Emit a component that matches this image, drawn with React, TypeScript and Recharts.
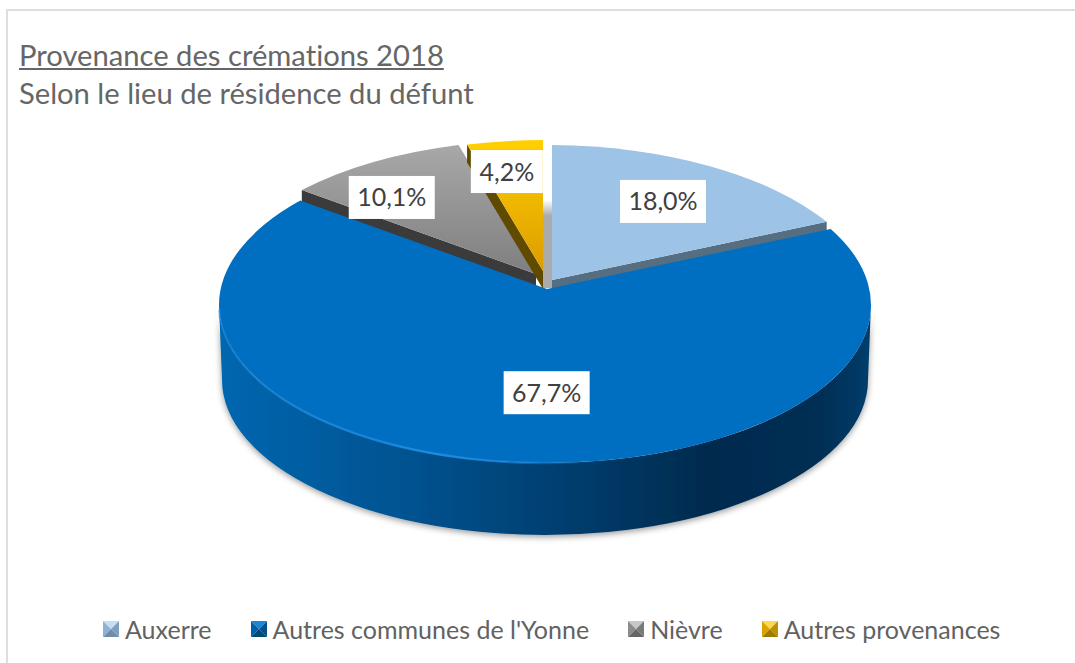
import { Legend, Pie, PieChart } from "recharts";

// Excel style 3D pie: Recharts gives the angles, the custom shape projects them on a tilted disc.

const categories = ["Auxerre", "Autres communes de l'Yonne", "Nièvre", "Autres provenances"];
const shares = [18.0, 67.7, 10.1, 4.2];

// painted back to front, the big slice has to cover the cut faces of the others
const paintOrder = [2, 3, 0, 1];
const rows = paintOrder.map((i) => ({ name: categories[i], value: shares[i] }));

const CX = 545;
const CY = 305;
const RX = 326;
const RY = 158;
const RAY_TILT = 0.45;
const START_ANGLE = 90 + ((shares[2] + shares[3]) / 100) * 360;

const SLICES: Record<string, any> = {
  Auxerre: { dx: 2, dy: -2, apexDx: 7, apexDy: -25, depth: 10, top: "#9DC3E6", wall: "#566E82" },
  "Autres communes de l'Yonne": { dx: 0, dy: 0, apexDx: 2, apexDy: -16, depth: 72, top: "#006FC1", wall: "url(#blueWall)" },
  Nièvre: { dx: -5, dy: -7, apexDx: -9, apexDy: -31, depth: 16, top: "url(#greyTop)", wall: "#3B3B3B" },
  "Autres provenances": { dx: 0, dy: -7, apexDx: -2, apexDy: -34, depth: 18, top: "url(#yellowTop)", wall: "#5F4A00" },
};

const LABEL_NUDGE: Record<string, [number, number]> = {
  Auxerre: [-13, -3.5],
  "Autres communes de l'Yonne": [30, -30],
  Nièvre: [-19, -8.5],
  "Autres provenances": [-6, -16],
};

const LEGEND_COLORS: Record<string, string[]> = {
  Auxerre: ["#C9DDF0", "#8FB2D4", "#7F9FBE", "#6F8CA8"],
  "Autres communes de l'Yonne": ["#1C86D6", "#005FA6", "#00528F", "#004679"],
  Nièvre: ["#C8C8C8", "#8C8C8C", "#7A7A7A", "#666666"],
  "Autres provenances": ["#FFD84D", "#DBA500", "#BF9000", "#A07900"],
};

const TEXT_FONT = "Lato, 'Noto Sans', sans-serif";

function rimPoint(compass: number, g: any, cx: number, cy: number, rx: number, ry: number) {
  const a = (compass * Math.PI) / 180;
  const dirX = Math.sin(a);
  const dirY = -RAY_TILT * Math.cos(a);
  const ax = cx + g.apexDx;
  const ay = cy + g.apexDy;
  const ox = ax - (cx + g.dx);
  const oy = ay - (cy + g.dy);
  const qa = (dirX * dirX) / (rx * rx) + (dirY * dirY) / (ry * ry);
  const qb = 2 * ((ox * dirX) / (rx * rx) + (oy * dirY) / (ry * ry));
  const qc = (ox * ox) / (rx * rx) + (oy * oy) / (ry * ry) - 1;
  const t = (-qb + Math.sqrt(qb * qb - 4 * qa * qc)) / (2 * qa);
  return { x: ax + t * dirX, y: ay + t * dirY };
}

function SliceShape(props: any) {
  const { cx, cy, outerRadius, startAngle, endAngle } = props;
  const name = props.payload?.name ?? props.name;
  const g = SLICES[name];
  const rx = outerRadius;
  const ry = (outerRadius * RY) / RX;
  const c0 = 90 - startAngle;
  const c1 = 90 - endAngle;
  const p0 = rimPoint(c0, g, cx, cy, rx, ry);
  const p1 = rimPoint(c1, g, cx, cy, rx, ry);
  const ax = cx + g.apexDx;
  const ay = cy + g.apexDy;
  const large = c1 - c0 > 180 ? 1 : 0;
  const top = `M${ax},${ay} L${p0.x},${p0.y} A${rx},${ry} 0 ${large} 1 ${p1.x},${p1.y} Z`;
  const isMain = g.depth > 20;

  if (isMain) {
    const left = cx - rx;
    const right = cx + rx;
    const bottomCy = cy + g.depth + 3;
    const wall = `M${left},${cy} A${rx},${ry} 0 0 0 ${right},${cy} L${right - 3},${bottomCy} A${rx - 3},${ry - 3} 0 0 1 ${left + 3},${bottomCy} Z`;
    const glowStart = rimPoint(262, g, cx, cy, rx, ry);
    const glowEnd = rimPoint(172, g, cx, cy, rx, ry);
    return (
      <g>
        <path d={wall} fill={g.wall} filter="url(#discShadow)" />
        <path d={top} fill={g.top} />
        <path
          d={`M${glowStart.x},${glowStart.y} A${rx},${ry} 0 0 0 ${glowEnd.x},${glowEnd.y}`}
          fill="none"
          stroke="url(#blueGlow)"
          strokeWidth={2.5}
        />
      </g>
    );
  }

  // the cut face looks towards the big slice
  const cut = name === "Auxerre" ? p1 : p0;
  const face = `M${ax},${ay} L${cut.x},${cut.y} L${cut.x},${cut.y + g.depth} L${ax},${ay + g.depth} Z`;
  return (
    <g>
      {name === "Auxerre" && (
        <rect x={ax - 9} y={ay - 80} width={9} height={88} fill="url(#innerGrey)" />
      )}
      <path d={face} fill={g.wall} />
      <path d={top} fill={g.top} />
    </g>
  );
}

function SliceLabel(props: any) {
  const { cx, cy, midAngle, outerRadius, value } = props;
  const name = props.payload?.name ?? props.name;
  const a = ((90 - midAngle) * Math.PI) / 180;
  const [nx, ny] = LABEL_NUDGE[name];
  const x = cx + 0.75 * outerRadius * Math.sin(a) + nx;
  const y = cy - 0.75 * ((outerRadius * RY) / RX) * Math.cos(a) + ny;
  const text = `${value.toFixed(1).replace(".", ",")}%`;
  const w = text.length * 14 + 16;
  return (
    <g>
      <rect x={x - w / 2} y={y - 21.5} width={w} height={43} fill="#FFFFFF" />
      <text x={x} y={y + 9} textAnchor="middle" fontFamily={TEXT_FONT} fontSize={25} fill="#404040">
        {text}
      </text>
    </g>
  );
}

function LegendIcon({ colors }: { colors: string[] }) {
  return (
    <svg width={16} height={16} style={{ marginRight: 6, flex: "none" }}>
      <polygon points="0,0 16,0 8,8" fill={colors[0]} />
      <polygon points="0,0 8,8 0,16" fill={colors[1]} />
      <polygon points="16,0 8,8 16,16" fill={colors[2]} />
      <polygon points="0,16 16,16 8,8" fill={colors[3]} />
    </svg>
  );
}

function LegendRow() {
  return (
    <div
      style={{
        display: "flex",
        alignItems: "center",
        paddingLeft: 103,
        fontFamily: TEXT_FONT,
        fontSize: 25,
        fontVariantLigatures: "none",
        color: "#626262",
        whiteSpace: "nowrap",
      }}
    >
      {categories.map((name) => (
        <div key={name} style={{ display: "flex", alignItems: "center", marginRight: 39 }}>
          <LegendIcon colors={LEGEND_COLORS[name]} />
          <span>{name}</span>
        </div>
      ))}
    </div>
  );
}

export default function App() {
  return (
    <div style={{ position: "absolute", left: 0, top: 0, width: 1075, height: 663, background: "#fff", overflow: "hidden" }}>
      <div
        style={{
          position: "absolute",
          left: 6,
          top: 9,
          width: 1069,
          height: 654,
          borderTop: "2px solid #DEDEDE",
          borderLeft: "2px solid #DEDEDE",
        }}
      />
      <div
        style={{
          position: "absolute",
          left: 19,
          top: 36,
          fontFamily: TEXT_FONT,
          fontSize: 29.2,
          lineHeight: "38px",
          fontVariantLigatures: "none",
          color: "#666666",
          whiteSpace: "nowrap",
          zIndex: 2,
        }}
      >
        <div style={{ textDecoration: "underline" }}>Provenance des crémations 2018</div>
        <div>Selon le lieu de résidence du défunt</div>
      </div>
      <PieChart width={1075} height={663} margin={{ top: 0, right: 0, bottom: 0, left: 0 }}>
        <defs>
          <linearGradient id="blueWall" gradientUnits="userSpaceOnUse" x1={CX - RX} y1={0} x2={CX + RX} y2={0}>
            <stop offset="0" stopColor="#0067B0" />
            <stop offset="0.3" stopColor="#00528F" />
            <stop offset="0.55" stopColor="#003C6C" />
            <stop offset="0.75" stopColor="#002B4E" />
            <stop offset="0.92" stopColor="#002E54" />
            <stop offset="1" stopColor="#003E6C" />
          </linearGradient>
          <linearGradient id="blueGlow" gradientUnits="userSpaceOnUse" x1={CX - RX} y1={0} x2={CX + 60} y2={0}>
            <stop offset="0" stopColor="#1C8AE0" stopOpacity={0.4} />
            <stop offset="0.6" stopColor="#1C8AE0" />
            <stop offset="1" stopColor="#1C8AE0" stopOpacity={0} />
          </linearGradient>
          <linearGradient id="greyTop" x1="0" y1="0" x2="0" y2="1">
            <stop offset="0" stopColor="#A8A8A8" />
            <stop offset="1" stopColor="#7F7F7F" />
          </linearGradient>
          <linearGradient id="yellowTop" x1="0" y1="0" x2="0" y2="1">
            <stop offset="0" stopColor="#FFD000" />
            <stop offset="1" stopColor="#DC9C00" />
          </linearGradient>
          <linearGradient id="innerGrey" x1="0" y1="0" x2="0" y2="1">
            <stop offset="0" stopColor="#FFFFFF" />
            <stop offset="0.18" stopColor="#ABABAB" />
            <stop offset="1" stopColor="#ABABAB" />
          </linearGradient>
          <filter id="discShadow" x="-5%" y="-10%" width="110%" height="125%">
            <feDropShadow dx={0} dy={2} stdDeviation={3} floodColor="#000" floodOpacity={0.4} />
          </filter>
        </defs>
        <Pie
          data={rows}
          dataKey="value"
          nameKey="name"
          cx={CX}
          cy={CY}
          innerRadius={0}
          outerRadius={RX}
          startAngle={START_ANGLE}
          endAngle={START_ANGLE - 360}
          stroke="none"
          shape={SliceShape}
          activeShape={SliceShape}
          inactiveShape={SliceShape}
          label={SliceLabel}
          labelLine={false}
          isAnimationActive={false}
        />
        <Legend content={<LegendRow />} wrapperStyle={{ left: 0, top: 614, width: 1075 }} />
      </PieChart>
    </div>
  );
}
